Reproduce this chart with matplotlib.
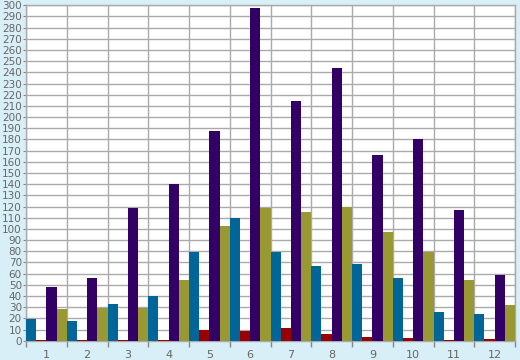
import matplotlib
matplotlib.use("Agg")
import matplotlib.pyplot as plt
import numpy as np

categories = ["1", "2", "3", "4", "5", "6", "7", "8", "9", "10", "11", "12"]
series_blue = [19, 18, 33, 40, 79, 110, 79, 67, 69, 56, 26, 24]
series_red = [1, 1, 1, 1, 10, 9, 11, 6, 3, 2, 0.5, 1.5]
series_purple = [48, 56, 119, 140, 188, 298, 214, 244, 166, 180, 117, 59]
series_olive = [28, 29, 29, 54, 103, 119, 115, 120, 97, 79, 54, 32]
colors = ["#006699", "#990000", "#330066", "#999933"]
y_ticks = list(range(0, 301, 10))

W, H = 520, 360
fig = plt.figure(figsize=(W / 100, H / 100), dpi=100)
fig.patch.set_facecolor("#D9EFF7")
ax = fig.add_axes([26 / W, (H - 340.7) / H, 489 / W, 335.4 / H])
ax.set_facecolor("white")

n = len(categories)
x = np.arange(n)
bw = 0.25
all_series = [series_blue, series_red, series_purple, series_olive]
for i, (vals, c) in enumerate(zip(all_series, colors)):
    ax.bar(x - 0.5 + bw * (i + 0.5), vals, width=bw, color=c, zorder=3, linewidth=0)

ax.set_xlim(-0.5, n - 0.5)
ax.set_ylim(0, 300)
ax.set_yticks(y_ticks)
ax.set_yticklabels([str(v) for v in y_ticks])
ax.yaxis.grid(True, color="#AAAAAA", linewidth=1, zorder=1)

# vertical grid at group boundaries
ax.set_xticks(np.arange(n + 1) - 0.5, minor=True)
ax.set_xticks(x)
ax.set_xticklabels(categories)
ax.xaxis.grid(True, which="minor", color="#AAAAAA", linewidth=1, zorder=1)
ax.tick_params(axis="x", which="major", length=0, pad=7, labelsize=8, labelcolor="#666666")
ax.tick_params(axis="x", which="minor", length=4, color="#888888", width=1)
ax.tick_params(axis="y", length=2, color="#888888", pad=1, labelsize=7.5, labelcolor="#666666")

for s in ax.spines.values():
    s.set_color("#AAAAAA")
    s.set_linewidth(1)

fig.savefig("out.png", dpi=100, facecolor=fig.get_facecolor())
